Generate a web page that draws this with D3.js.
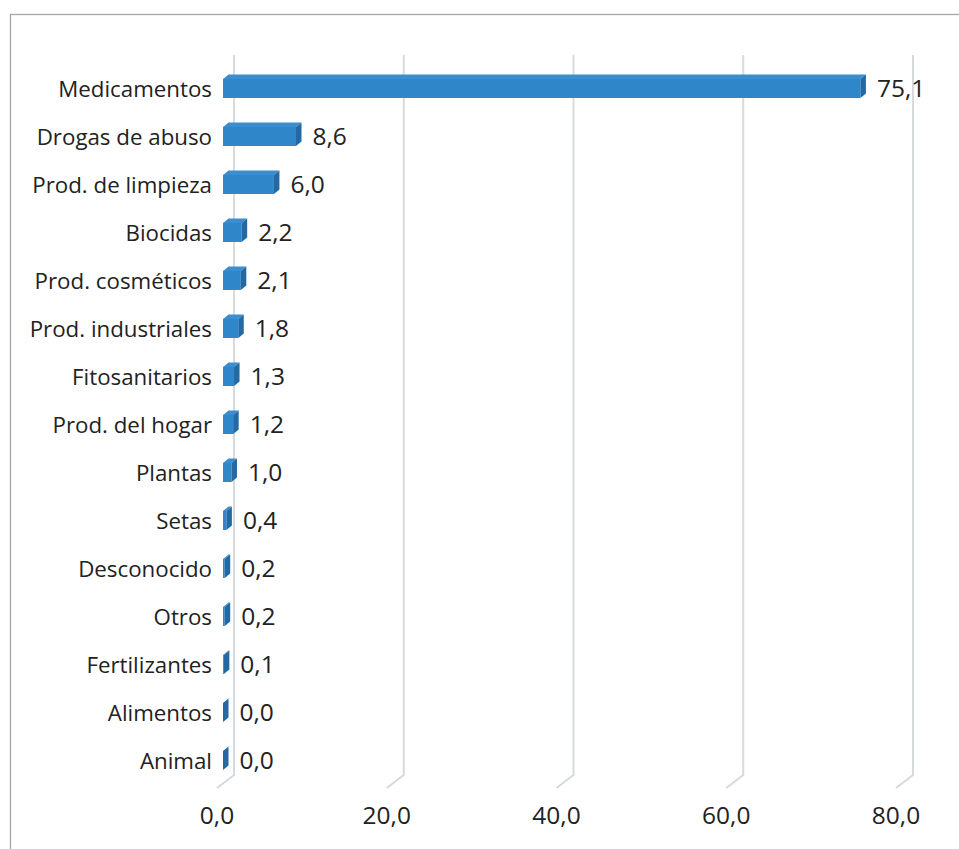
<!DOCTYPE html>
<html>
<head>
<meta charset="utf-8">
<script src="https://cdn.jsdelivr.net/npm/d3@7/dist/d3.min.js"></script>
<style>
  html, body { margin: 0; padding: 0; background: #fff; }
  svg { display: block; }
  text { font-family: "Open Sans", "Liberation Sans", Arial, sans-serif; fill: #222; }
</style>
</head>
<body>
<svg id="chart" width="959" height="849"></svg>
<script>
const categories = ["Medicamentos", "Drogas de abuso", "Prod. de limpieza", "Biocidas",
  "Prod. cosméticos", "Prod. industriales", "Fitosanitarios", "Prod. del hogar",
  "Plantas", "Setas", "Desconocido", "Otros", "Fertilizantes", "Alimentos", "Animal"];
const values = [75.1, 8.6, 6.0, 2.2, 2.1, 1.8, 1.3, 1.2, 1.0, 0.4, 0.2, 0.2, 0.1, 0.0, 0.0];
const ticks = [0, 20, 40, 60, 80];

const fmt = v => d3.format(".1f")(v).replace(".", ",");

const svg = d3.select("#chart");
const W = 959, H = 849;

// chart border
svg.append("rect")
  .attr("x", 10.5).attr("y", 14.5)
  .attr("width", W + 20).attr("height", H + 20)
  .attr("fill", "none").attr("stroke", "#A6A6A6").attr("stroke-width", 1.3);

// back wall x scale
const x = d3.scaleLinear().domain([0, 80]).range([234, 913]);
const y = d3.scaleBand().domain(categories).range([64.5, 784.5]).padding(0);

const wallTop = 55, floorBack = 775;
const floorDX = -17, floorDY = 13;     // back -> front of floor
const barFrontDX = -11;                // back wall -> bar front face
const depthDX = 5.5, depthDY = -4.5;   // bar front -> bar back
const barH = 19;

// gridlines
const grid = svg.append("g");
ticks.forEach(t => {
  const gx = x(t);
  grid.append("path")
    .attr("d", `M${gx},${wallTop} L${gx},${floorBack} L${gx + floorDX},${floorBack + floorDY}`)
    .attr("fill", "none").attr("stroke", "#D6D9DE").attr("stroke-width", 2);
});

// tick labels
svg.append("g").selectAll("text").data(ticks).join("text")
  .attr("x", d => x(d) + floorDX)
  .attr("y", 824)
  .attr("text-anchor", "middle")
  .attr("font-size", 24.5)
  .text(d => fmt(d));

// bars
const bars = svg.append("g").selectAll("g").data(categories).join("g");
bars.each(function(c, i) {
  const g = d3.select(this);
  const v = values[i];
  const x0 = x(0) + barFrontDX;
  const x1 = x(v) + barFrontDX;
  const cy = y(c) + y.bandwidth() / 2;
  const y0 = cy - barH / 2, y1 = cy + barH / 2;
  // top face
  g.append("path")
    .attr("d", `M${x0},${y0} L${x0 + depthDX},${y0 + depthDY} L${x1 + depthDX},${y0 + depthDY} L${x1},${y0} Z`)
    .attr("fill", "#3A8DCE");
  // front face
  g.append("rect")
    .attr("x", x0).attr("y", y0)
    .attr("width", Math.max(0, x1 - x0)).attr("height", barH)
    .attr("fill", "#2F86C9");
  // side face
  g.append("path")
    .attr("d", `M${x1},${y0} L${x1 + depthDX},${y0 + depthDY} L${x1 + depthDX},${y1 + depthDY} L${x1},${y1} Z`)
    .attr("fill", "#2569A2");
  // value label
  g.append("text")
    .attr("x", x1 + depthDX + 11)
    .attr("y", cy)
    .attr("dy", "0.36em")
    .attr("font-size", 24.5)
    .text(fmt(v));
  // category label
  g.append("text")
    .attr("x", 212)
    .attr("y", cy)
    .attr("dy", "0.36em")
    .attr("text-anchor", "end")
    .attr("font-size", 22.3)
    .text(c);
});
</script>
</body>
</html>
